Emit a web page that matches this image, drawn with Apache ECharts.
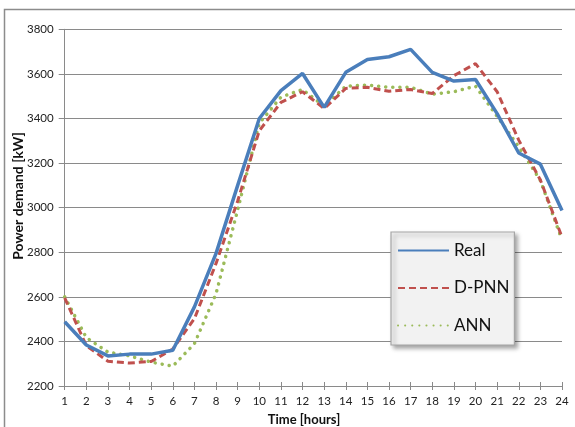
<!DOCTYPE html>
<html>
<head>
<meta charset="utf-8">
<script src="https://cdn.jsdelivr.net/npm/echarts@6/dist/echarts.min.js"></script>
<style>
html,body{margin:0;padding:0;background:#fff;}
#c{width:575px;height:427px;}
</style>
</head>
<body>
<div id="c"></div>
<script>
const hours = ['1','2','3','4','5','6','7','8','9','10','11','12','13','14','15','16','17','18','19','20','21','22','23','24'];
const realVals = [2488,2384,2335,2343,2343,2360,2555,2795,3100,3400,3525,3602,3450,3607,3665,3677,3710,3607,3568,3575,3422,3245,3195,2987];
const dpnnVals = [2595,2381,2311,2303,2310,2366,2502,2750,3030,3345,3472,3520,3445,3535,3540,3522,3530,3512,3592,3646,3520,3303,3124,2868];
const annVals  = [2600,2417,2352,2335,2307,2289,2390,2614,2990,3378,3496,3530,3455,3545,3550,3540,3540,3509,3520,3545,3409,3273,3122,2855];
const yMin = 2200, yMax = 3800, yStep = 200;

const font = 'Lato, "Liberation Sans", sans-serif';
const chart = echarts.init(document.getElementById('c'));
chart.setOption({
  animation: false,
  backgroundColor: '#ffffff',
  grid: {left: 64.7, right: 13, top: 29.3, bottom: 41, containLabel: false},
  xAxis: [{
    type: 'category', data: hours, boundaryGap: false,
    axisLine: {lineStyle: {color: '#8a8a8a', width: 1}},
    axisTick: {show: true, length: 4, inside: false, lineStyle: {color: '#8a8a8a'}},
    axisLabel: {fontFamily: font, fontSize: 11.5, color: '#222', margin: 9, interval: 0},
    splitLine: {show: false}
  }, {
    type: 'category', data: hours, boundaryGap: false, position: 'bottom',
    axisLine: {show: false},
    axisTick: {show: true, length: 4, inside: true, lineStyle: {color: '#8a8a8a'}},
    axisLabel: {show: false},
    splitLine: {show: false}
  }],
  yAxis: {
    type: 'value', min: yMin, max: yMax, interval: yStep,
    axisLine: {show: true, lineStyle: {color: '#8a8a8a', width: 1}},
    axisTick: {show: true, length: 6, lineStyle: {color: '#8a8a8a'}},
    axisLabel: {fontFamily: font, fontSize: 11.5, color: '#222', margin: 11, formatter: v => String(v)},
    splitLine: {show: true, lineStyle: {color: '#8a8a8a', width: 1}}
  },
  legend: {
    orient: 'vertical', left: 391, top: 232, width: 119, height: 110,
    padding: [10, 5, 11, 6],
    itemWidth: 51, itemHeight: 14, itemGap: 20.5,
    backgroundColor: '#f2f2f2', borderColor: '#a6a6a6', borderWidth: 1.2,
    shadowBlur: 4, shadowOffsetX: 3, shadowOffsetY: 3, shadowColor: 'rgba(0,0,0,0.35)',
    itemStyle: {opacity: 0},
    textStyle: {fontFamily: font, fontSize: 17, color: '#111'},
    data: ['Real', 'D-PNN', 'ANN']
  },
  series: [
    {name: 'ANN', type: 'line', data: annVals, symbol: 'none', z: 2,
     itemStyle: {color: '#9bbb59'},
     lineStyle: {color: '#9bbb59', width: 3.5, type: [0.1, 7], cap: 'round'}},
    {name: 'D-PNN', type: 'line', data: dpnnVals, symbol: 'none', z: 3,
     itemStyle: {color: '#c0504d'},
     lineStyle: {color: '#c0504d', width: 3, type: [7, 4], cap: 'butt'}},
    {name: 'Real', type: 'line', data: realVals, symbol: 'none', z: 4,
     itemStyle: {color: '#4a7ebb'},
     lineStyle: {color: '#4a7ebb', width: 3.5}}
  ],
  graphic: [
    {type: 'rect', silent: true, z: -1,
     shape: {x: 4.5, y: 9.5, width: 620, height: 500},
     style: {fill: 'none', stroke: '#8c8c8c', lineWidth: 1.5}},
    {type: 'text', x: 304, y: 420, silent: true,
     style: {text: 'Time [hours]', font: 'bold 13px ' + font, fill: '#111', align: 'center', verticalAlign: 'middle'}},
    {type: 'text', x: 18, y: 196, rotation: Math.PI / 2, silent: true,
     style: {text: 'Power demand [kW]', font: 'bold 14px ' + font, fill: '#111', align: 'center', verticalAlign: 'middle'}}
  ]
});
</script>
</body>
</html>
